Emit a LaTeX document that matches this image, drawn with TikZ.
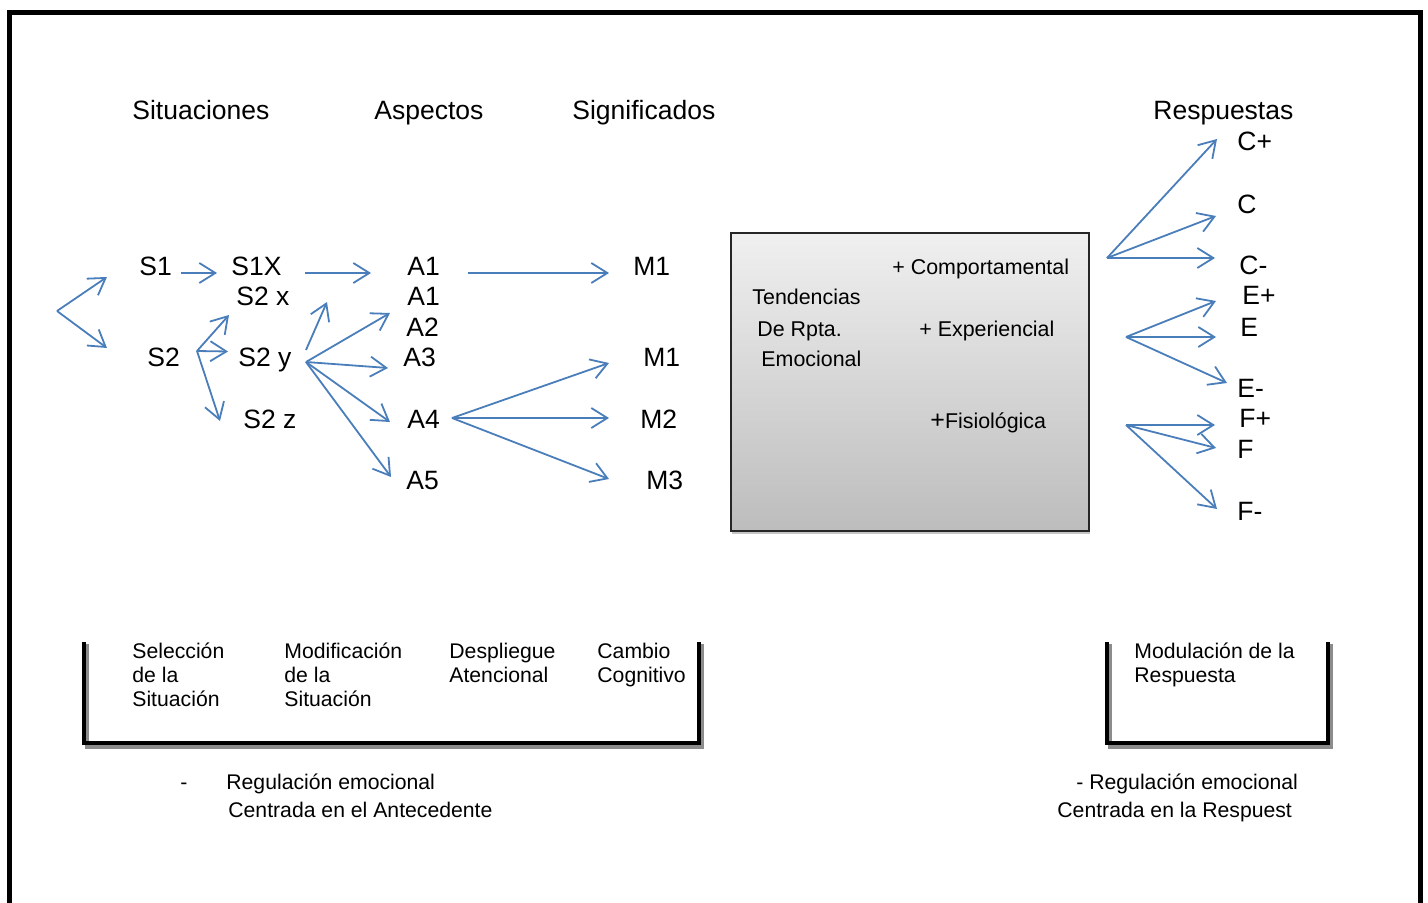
\documentclass[tikz,border=0pt]{standalone}
\usepackage{fontspec}
\setmainfont{Liberation Sans}
\usepackage{tikz}
\usetikzlibrary{calc,arrows.meta,shadows}
\definecolor{azul}{HTML}{4A7EBB}
\tikzstyle{etiqueta}=[anchor=base west,inner sep=0pt,font=\fontsize{13.25}{16}\selectfont]
\tikzstyle{textocaja}=[anchor=base west,inner sep=0pt,font=\fontsize{10.7}{12}\selectfont]
\tikzstyle{textobajo}=[anchor=base west,inner sep=0pt,font=\fontsize{10.6}{12}\selectfont]
\tikzstyle{flecha}=[draw=azul,line width=0.9pt,-{Straight Barb[length=8pt,width=10pt]}]
\tikzstyle{caja}=[rectangle,draw=black!85,line width=0.7pt,top color=black!6,bottom color=black!26,
                  minimum width=179pt,minimum height=149pt,inner sep=0pt,
                  drop shadow={shadow xshift=0.5pt,shadow yshift=-1.5pt,fill=black!45}]
\tikzstyle{corchete}=[line width=2pt,black]
\newcommand\bloque[1]{\parbox[t]{8em}{\raggedright #1}}

\begin{document}
\begin{tikzpicture}[x=0.5pt,y=-0.5pt]
    \useasboundingbox (0,0) rectangle (1428,903);
    \draw[line width=2.5pt] (9.5,910) -- (9.5,12.5) -- (1420.5,12.5) -- (1420.5,910);

    \node [etiqueta] (tSit) at (132,120) {Situaciones};
    \node [etiqueta] (tAsp) at (374,120) {Aspectos};
    \node [etiqueta] (tSig) at (572,120) {Significados};
    \node [etiqueta] (tResp) at (1153,120) {Respuestas};

    \node [etiqueta] (S1) at (139,275.5) {S1};
    \node [etiqueta] (S1X) at (231,275.5) {S1X};
    \node [etiqueta] (S2x) at (236,305.5) {S2 x};
    \node [etiqueta] (S2) at (147,366.5) {S2};
    \node [etiqueta] (S2y) at (238,366.5) {S2 y};
    \node [etiqueta] (S2z) at (243,428.5) {S2 z};

    \node [etiqueta] (A1) at (407,275.5) {A1};
    \node [etiqueta] (A1b) at (407,305.5) {A1};
    \node [etiqueta] (A2) at (406,336.5) {A2};
    \node [etiqueta] (A3) at (403,366.5) {A3};
    \node [etiqueta] (A4) at (407,428.5) {A4};
    \node [etiqueta] (A5) at (406,489.5) {A5};

    \node [etiqueta] (M1) at (633,275.5) {M1};
    \node [etiqueta] (M1b) at (643,366.5) {M1};
    \node [etiqueta] (M2) at (640,428.5) {M2};
    \node [etiqueta] (M3) at (646,489.5) {M3};

    \node [etiqueta] (Cp) at (1237,150.7) {C+};
    \node [etiqueta] (C) at (1237,213.3) {C};
    \node [etiqueta] (Cm) at (1239,275) {C-};
    \node [etiqueta] (Ep) at (1242,305) {E+};
    \node [etiqueta] (E) at (1240,336) {E};
    \node [etiqueta] (Em) at (1237,397.7) {E-};
    \node [etiqueta] (Fp) at (1239,427.5) {F+};
    \node [etiqueta] (F) at (1237,458.3) {F};
    \node [etiqueta] (Fm) at (1237,520) {F-};

    \node [caja] (tend) at (910,382) {};
    \node [textocaja] (comp) at (892,275) {+ Comportamental};
    \node [textocaja] (tend1) at (752,305) {Tendencias};
    \node [textocaja] (tend2) at (757,336) {De Rpta.};
    \node [textocaja] (tend3) at (761,366.5) {Emocional};
    \node [textocaja] (expe) at (919,336) {+ Experiencial};
    \node [textocaja] (fisi) at (930,428) {{\fontsize{12.5}{12}\selectfont+}Fisiológica};

    \coordinate (raiz) at (57,311);
    \coordinate (rS2) at (197,351);
    \coordinate (rS2y) at (306,362);
    \coordinate (rA4) at (452,418);
    \coordinate (rC) at (1107,258);
    \coordinate (rE) at (1126,337);
    \coordinate (rF) at (1126,425);

    \draw[flecha] (raiz) -- ($(S1.base west)+(-32,1.5)$);
    \draw[flecha] (raiz) -- ($(S2.base west)+(-40,-18.5)$);
    \draw[flecha] ($(S1.base west)+(42,-2.5)$) -- ($(S1X.base west)+(-14,-2.5)$);
    \draw[flecha] ($(S1X.base west)+(74,-2.5)$) -- ($(A1.base west)+(-36,-2.5)$);
    \draw[flecha] ($(A1.base west)+(61,-2.5)$) -- ($(M1.base west)+(-24,-2.5)$);
    \draw[flecha] (rS2) -- ($(S2x.base west)+(-7,9.5)$);
    \draw[flecha] (rS2) -- ($(S2y.base west)+(-10,-15)$);
    \draw[flecha] (rS2) -- ($(S2z.base west)+(-23,-7.5)$);
    \draw[flecha] ($(S2y.base west)+(68,-16.5)$) -- ($(A1b.base west)+(-80,-3.5)$);
    \draw[flecha] (rS2y) -- ($(A2.base west)+(-16,-23.5)$);
    \draw[flecha] (rS2y) -- ($(A3.base west)+(-15,1.5)$);
    \draw[flecha] (rS2y) -- ($(A4.base west)+(-17,-6.5)$);
    \draw[flecha] (rS2y) -- ($(A5.base west)+(-15,-12.5)$);
    \draw[flecha] (rA4) -- ($(M1b.base west)+(-34,-3.5)$);
    \draw[flecha] (rA4) -- ($(M2.base west)+(-31,-10.5)$);
    \draw[flecha] (rA4) -- ($(M3.base west)+(-37,-10.5)$);
    \draw[flecha] (rC) -- ($(Cp.base west)+(-20,-11.7)$);
    \draw[flecha] (rC) -- ($(C.base west)+(-21,2.7)$);
    \draw[flecha] (rC) -- ($(Cm.base west)+(-24,-17)$);
    \draw[flecha] (rE) -- ($(Ep.base west)+(-26,-4)$);
    \draw[flecha] (rE) -- ($(E.base west)+(-24,1)$);
    \draw[flecha] (rE) -- ($(Em.base west)+(-10,-14.7)$);
    \draw[flecha] (rF) -- ($(Fp.base west)+(-24,-2.5)$);
    \draw[flecha] (rF) -- ($(F.base west)+(-21,-10.3)$);
    \draw[flecha] (rF) -- ($(Fm.base west)+(-20,-11)$);

    \draw[corchete,black!45] (87,644) -- (87,747) -- (702,747) -- (702,644);
    \draw[corchete] (84,642) -- (84,743) -- (699,743) -- (699,642);
    \draw[corchete,black!45] (1110,644) -- (1110,747) -- (1331,747) -- (1331,644);
    \draw[corchete] (1107,642) -- (1107,743) -- (1328,743) -- (1328,642);

    \node [textobajo] (sel) at (132,658.6) {\bloque{Selección\\de la\\Situación}};
    \node [textobajo] (mod) at (284,658.6) {\bloque{Modificación\\de la\\Situación}};
    \node [textobajo] (desp) at (449,658.6) {\bloque{Despliegue\\Atencional}};
    \node [textobajo] (camb) at (597,658.6) {\bloque{Cambio\\Cognitivo}};
    \node [textobajo] (modr) at (1134,658.6) {\bloque{Modulación de la\\Respuesta}};

    \node [textobajo] (guion) at (180,789.6) {-};
    \node [textobajo] (regA) at (226,789.6) {Regulación emocional};
    \node [textobajo] (cenA) at (228,817.6) {Centrada en el Antecedente};
    \node [textobajo] (regR) at (1076,789.6) {- Regulación emocional};
    \node [textobajo] (cenR) at (1057,817.6) {Centrada en la Respuest};
\end{tikzpicture}
\end{document}
